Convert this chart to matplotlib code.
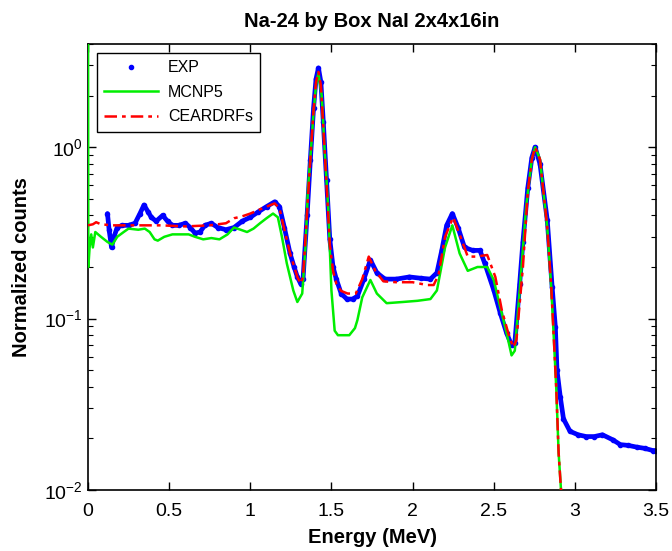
import matplotlib
matplotlib.use("Agg")
import matplotlib.pyplot as plt
from matplotlib.ticker import LogLocator, FixedLocator

plt.rcParams['font.family'] = ['Liberation Sans', 'DejaVu Sans']

# ---- data ----
exp_e = [0.12, 0.13, 0.145, 0.16, 0.18, 0.21, 0.25, 0.29, 0.32, 0.345, 0.37, 0.39, 0.42,
         0.46, 0.49, 0.52, 0.56, 0.60, 0.63, 0.66, 0.69, 0.72, 0.76, 0.80, 0.85, 0.90,
         0.95, 1.00, 1.05, 1.10, 1.15, 1.18, 1.21, 1.245, 1.27, 1.29, 1.31, 1.325, 1.35,
         1.37, 1.39, 1.405, 1.42, 1.435, 1.45, 1.47, 1.49, 1.51, 1.53, 1.56, 1.595, 1.63,
         1.66, 1.70, 1.74, 1.78, 1.83, 1.90, 1.98, 2.05, 2.11, 2.15, 2.18, 2.21, 2.245,
         2.28, 2.32, 2.37, 2.415, 2.445, 2.50, 2.54, 2.58, 2.61, 2.63, 2.66, 2.68, 2.71,
         2.735, 2.755, 2.785, 2.83, 2.86, 2.88, 2.89, 2.91, 2.93, 2.97, 3.02, 3.07, 3.12,
         3.17, 3.235, 3.28, 3.33, 3.38, 3.43, 3.48, 3.50]
exp_c = [0.41, 0.33, 0.26, 0.30, 0.34, 0.35, 0.35, 0.36, 0.41, 0.46, 0.42, 0.39, 0.37,
         0.40, 0.37, 0.35, 0.35, 0.36, 0.34, 0.315, 0.32, 0.35, 0.36, 0.34, 0.33, 0.34,
         0.37, 0.39, 0.42, 0.45, 0.48, 0.45, 0.34, 0.24, 0.20, 0.175, 0.16, 0.17, 0.40,
         0.84, 1.7, 2.5, 2.9, 2.4, 1.4, 0.64, 0.29, 0.20, 0.17, 0.14, 0.13, 0.13,
         0.135, 0.17, 0.22, 0.185, 0.17, 0.17, 0.175, 0.172, 0.17, 0.185, 0.25, 0.35, 0.41,
         0.34, 0.26, 0.25, 0.25, 0.21, 0.147, 0.108, 0.082, 0.07, 0.072, 0.16, 0.28, 0.58,
         0.87, 1.0, 0.8, 0.375, 0.153, 0.089, 0.05, 0.035, 0.026, 0.022, 0.021, 0.0205, 0.0205,
         0.021, 0.0196, 0.0184, 0.0182, 0.0178, 0.0175, 0.017, 0.017]

mcnp_e = [0.0, 0.002, 0.01, 0.02, 0.03, 0.045, 0.08, 0.12, 0.15, 0.18, 0.22, 0.25, 0.31,
          0.35, 0.38, 0.41, 0.43, 0.47, 0.52, 0.57, 0.62, 0.66, 0.71, 0.76, 0.81, 0.86,
          0.90, 0.94, 0.98, 1.02, 1.06, 1.10, 1.14, 1.17, 1.195, 1.225, 1.265, 1.29, 1.32,
          1.34, 1.355, 1.375, 1.39, 1.405, 1.42, 1.44, 1.46, 1.48, 1.50, 1.52, 1.54, 1.61,
          1.645, 1.66, 1.69, 1.74, 1.78, 1.84, 1.94, 2.03, 2.11, 2.15, 2.20, 2.245, 2.29,
          2.34, 2.40, 2.46, 2.50, 2.54, 2.58, 2.61, 2.63, 2.66, 2.70, 2.735, 2.755, 2.785,
          2.83, 2.855, 2.87, 2.885, 2.90, 2.93]
mcnp_c = [10.0, 0.2, 0.26, 0.31, 0.26, 0.32, 0.30, 0.28, 0.27, 0.30, 0.32, 0.335, 0.33,
          0.335, 0.32, 0.29, 0.285, 0.30, 0.31, 0.31, 0.31, 0.30, 0.29, 0.295, 0.29, 0.31,
          0.34, 0.33, 0.32, 0.335, 0.36, 0.385, 0.41, 0.39, 0.30, 0.21, 0.146, 0.125, 0.14,
          0.26, 0.56, 1.0, 1.6, 2.3, 2.7, 2.0, 0.9, 0.45, 0.146, 0.085, 0.08, 0.08,
          0.088, 0.098, 0.133, 0.168, 0.14, 0.123, 0.125, 0.127, 0.13, 0.146, 0.26, 0.35, 0.24,
          0.19, 0.20, 0.20, 0.168, 0.117, 0.082, 0.061, 0.065, 0.146, 0.45, 0.85, 1.0, 0.85,
          0.34, 0.15, 0.078, 0.04, 0.0164, 0.006]

cear_e = [0.0, 0.03, 0.05, 0.08, 0.15, 0.30, 0.45, 0.60, 0.75, 0.85, 0.90, 0.95, 1.00,
          1.05, 1.10, 1.15, 1.18, 1.21, 1.245, 1.29, 1.31, 1.325, 1.35, 1.37, 1.39, 1.405,
          1.42, 1.435, 1.45, 1.47, 1.49, 1.51, 1.53, 1.56, 1.60, 1.65, 1.69, 1.73, 1.77,
          1.82, 1.90, 2.00, 2.09, 2.13, 2.16, 2.20, 2.25, 2.29, 2.34, 2.39, 2.46, 2.51,
          2.55, 2.59, 2.62, 2.64, 2.68, 2.71, 2.735, 2.755, 2.785, 2.83, 2.855, 2.87, 2.885,
          2.90, 2.93]
cear_c = [0.35, 0.355, 0.365, 0.355, 0.35, 0.35, 0.35, 0.345, 0.35, 0.36, 0.385, 0.395, 0.41,
          0.43, 0.45, 0.47, 0.44, 0.33, 0.24, 0.175, 0.16, 0.175, 0.42, 0.85, 1.65, 2.4,
          2.75, 2.3, 1.3, 0.6, 0.27, 0.19, 0.16, 0.145, 0.14, 0.14, 0.17, 0.23, 0.19,
          0.165, 0.163, 0.163, 0.157, 0.157, 0.18, 0.30, 0.39, 0.31, 0.23, 0.23, 0.235, 0.175,
          0.112, 0.082, 0.068, 0.075, 0.20, 0.55, 0.85, 1.0, 0.85, 0.34, 0.15, 0.078, 0.04,
          0.0164, 0.006]

x_ticks = [0, 0.5, 1, 1.5, 2, 2.5, 3, 3.5]
x_ticklabels = ['0', '0.5', '1', '1.5', '2', '2.5', '3', '3.5']

# ---- figure ----
fig = plt.figure(figsize=(6.72, 5.51), dpi=100)
ax = fig.add_axes([88/672, 1-490/551, (656-88)/672, (490-44)/551])

ax.plot(exp_e, exp_c, color='#0000ff', lw=3.4, solid_capstyle='round', zorder=2)
ax.plot(exp_e, exp_c, linestyle='none', marker='o', ms=3.0, color='#0000ff',
        label='EXP', zorder=2)
ax.plot(mcnp_e, mcnp_c, color='#00ee00', lw=1.8, label='MCNP5', zorder=3)
ax.plot(cear_e, cear_c, color='#ff0000', lw=1.8, linestyle='-.', label='CEARDRFs', zorder=4,
        dashes=(5, 2, 1.5, 2))

ax.set_yscale('log')
ax.set_xlim(0, 3.5)
ax.set_ylim(0.01, 4.0)
ax.xaxis.set_major_locator(FixedLocator(x_ticks))
ax.set_xticklabels(x_ticklabels)
ax.yaxis.set_major_locator(LogLocator(base=10, numticks=10))
ax.yaxis.set_minor_locator(LogLocator(base=10, subs=range(2, 10), numticks=20))

ax.tick_params(axis='both', which='both', direction='in', top=True, right=True,
               labelsize=14, colors='black')
ax.tick_params(axis='both', which='major', length=6, width=1)
ax.tick_params(axis='y', which='minor', length=3.5, width=0.8)
ax.tick_params(axis='x', which='major', pad=9)
for s in ax.spines.values():
    s.set_linewidth(1.2)

ax.set_title('Na-24 by Box NaI 2x4x16in', fontsize=14.5, fontweight='bold', pad=12)
ax.set_xlabel('Energy (MeV)', fontsize=14.5, fontweight='bold', labelpad=6)
ax.set_ylabel('Normalized counts', fontsize=14.5, fontweight='bold', labelpad=10)

leg = ax.legend(loc='upper left', bbox_to_anchor=(9/568, 1-9/446), borderaxespad=0,
                fontsize=11.5, handlelength=3.4, labelspacing=0.6, fancybox=False,
                framealpha=1, edgecolor='black', borderpad=0.45, handletextpad=0.6)
leg.get_frame().set_linewidth(1.0)

fig.savefig('out.png', dpi=100)
